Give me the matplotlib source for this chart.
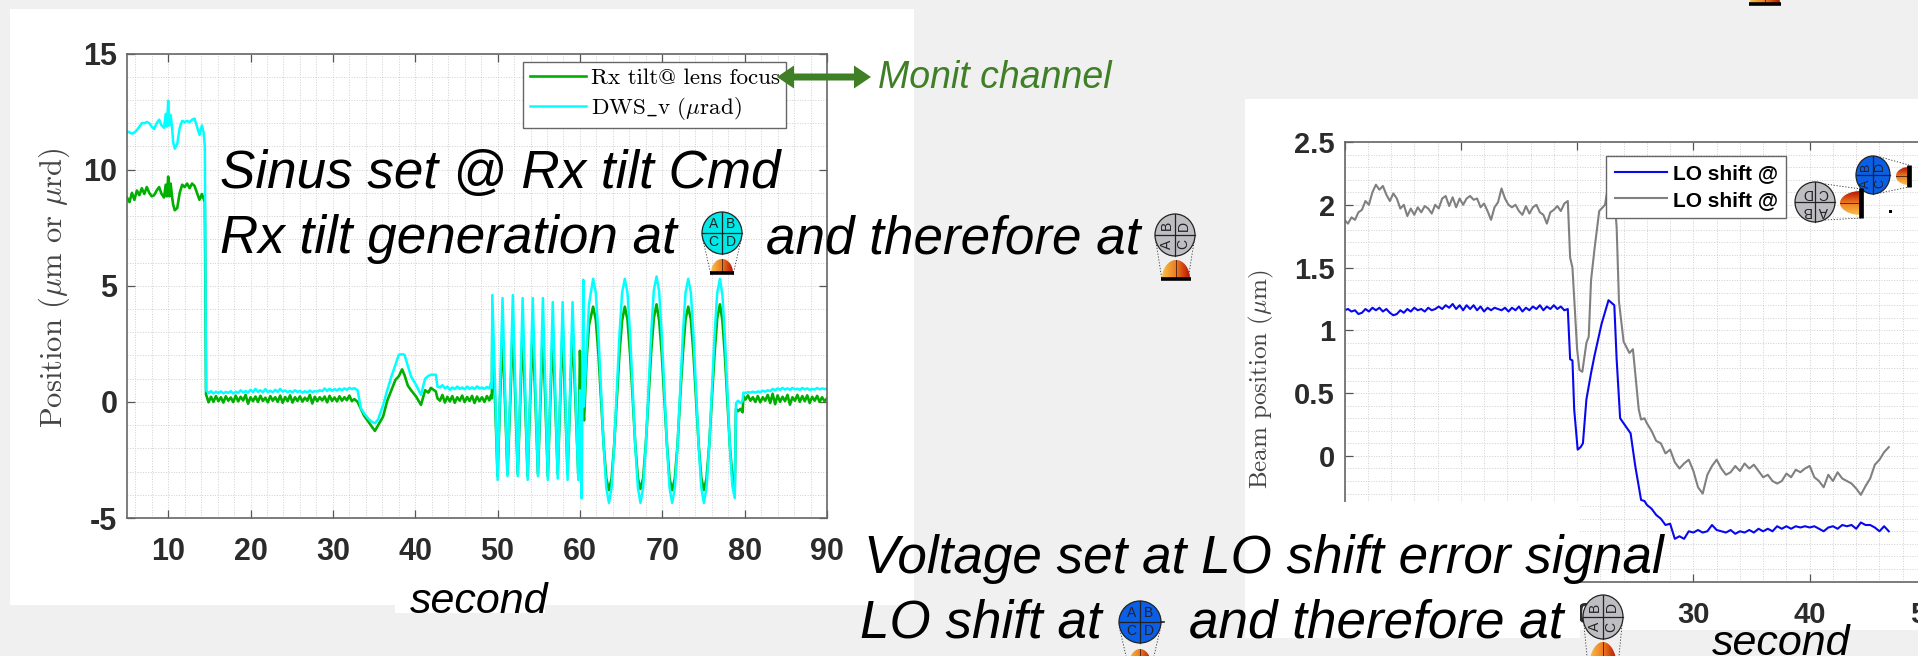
#!/usr/bin/env python3
"""
Rx tilt and LO shift step responses, pasted on a slide with icons
"""

import matplotlib
matplotlib.use('Agg')
import matplotlib.pyplot as plt
import numpy as np
from matplotlib.colors import LinearSegmentedColormap
from matplotlib.patches import Ellipse, FancyArrow, PathPatch, Rectangle
from matplotlib.path import Path
from matplotlib.ticker import MultipleLocator

plt.rcParams['mathtext.fontset'] = 'cm'
plt.rcParams['axes.unicode_minus'] = False

# left chart, time bases shared by both channels
t_start = [5.0, 5.3, 5.6, 5.9, 6.2, 6.5, 6.8, 7.1, 7.4, 7.7, 8.0, 8.3, 8.6, 8.9, 9.2, 9.5, 9.7, 9.85, 10.0, 10.15,
           10.3, 10.45, 10.6, 10.8, 11.1, 11.4, 11.7, 12.0, 12.3, 12.6, 12.9, 13.2, 13.5, 13.8, 14.1, 14.3, 14.45]
cyan_start = [11.65, 11.6, 11.55, 11.6, 11.7, 11.85, 12.0, 12.0, 12.05, 12.0, 11.85, 11.75, 12.0, 12.15, 11.9, 11.8,
              12.4, 11.85, 12.97, 11.9, 12.35, 11.9, 11.2, 10.9, 11.1, 11.8, 12.1, 12.05, 12.1, 12.05, 12.15, 12.2,
              11.85, 11.5, 11.9, 11.6, 11.0]
green_start = [8.8, 8.6, 9.0, 8.7, 9.1, 8.9, 9.2, 8.95, 9.25, 9.0, 8.85, 8.9, 9.1, 9.25, 8.95, 8.8, 9.35, 8.85, 9.7,
               8.85, 9.4, 8.9, 8.5, 8.25, 8.35, 9.0, 9.35, 9.25, 9.4, 9.2, 9.4, 9.3, 9.0, 8.7, 8.95, 8.75, 8.6]

t_flat = [14.6, 14.9, 15.2, 15.5, 15.8, 16.1, 16.4, 16.7, 17.0, 17.3, 17.6, 17.9, 18.2, 18.5, 18.8, 19.1, 19.4, 19.7,
          20.0, 20.3, 20.6, 20.9, 21.2, 21.5, 21.8, 22.1, 22.4, 22.7, 23.0, 23.3, 23.6, 23.9, 24.2, 24.5, 24.8, 25.1,
          25.4, 25.7, 26.0, 26.3, 26.6, 26.9, 27.2, 27.5, 27.8, 28.1, 28.4, 28.7, 29.0, 29.3, 29.6, 29.9, 30.2, 30.5,
          30.8, 31.1, 31.4, 31.7, 32.0, 32.3]
cyan_flat = [0.5, 0.38, 0.46, 0.36, 0.44, 0.38, 0.45, 0.37, 0.43, 0.39, 0.46, 0.36, 0.44, 0.38, 0.5, 0.4, 0.47, 0.4,
             0.52, 0.42, 0.56, 0.43, 0.5, 0.41, 0.55, 0.42, 0.48, 0.41, 0.52, 0.43, 0.56, 0.44, 0.49, 0.42, 0.47, 0.41,
             0.5, 0.43, 0.47, 0.4, 0.46, 0.41, 0.49, 0.42, 0.46, 0.44, 0.5, 0.46, 0.58, 0.47, 0.56, 0.48, 0.55, 0.49,
             0.57, 0.5, 0.58, 0.52, 0.6, 0.55]
green_flat = [0.32, -0.02, 0.22, 0.0, 0.25, 0.03, 0.2, -0.03, 0.24, 0.05, 0.19, -0.01, 0.27, 0.02, 0.22, 0.06, 0.3,
              -0.08, 0.2, 0.03, 0.23, 0.0, 0.26, 0.04, 0.18, -0.02, 0.25, 0.05, 0.2, 0.0, 0.27, -0.04, 0.21, 0.03, 0.28,
              -0.03, 0.2, 0.04, 0.24, 0.01, 0.18, 0.05, 0.3, -0.07, 0.22, 0.03, 0.2, 0.06, 0.23, -0.02, 0.26, 0.04,
              0.19, 0.02, 0.24, 0.05, 0.2, 0.07, 0.27, 0.03]

t_bump = [32.6, 33.0, 33.4, 33.8, 34.3, 34.7, 35.1, 35.5, 36.1, 36.6, 37.1, 37.6, 38.0, 38.4, 38.7, 39.1, 39.5, 40.1,
          40.7, 41.2, 41.6, 41.9, 42.5, 42.7, 43.0]
cyan_bump = [0.59, 0.5, -0.27, -0.5, -0.72, -0.85, -0.92, -0.75, -0.13, 0.5, 1.09, 1.6, 2.03, 2.05, 2.03, 1.55, 1.09,
             0.73, 0.3, 1.0, 1.12, 1.17, 1.17, 0.66, 0.62]
green_bump = [0.12, 0.0, -0.3, -0.6, -0.85, -1.05, -1.25, -1.0, -0.63, 0.05, 0.5, 0.95, 1.1, 1.4, 1.15, 0.7, 0.5,
              0.23, -0.13, 0.5, 0.4, 0.6, 0.45, 0.15, 0.05]

t_hold = [43.3, 43.6, 43.9, 44.2, 44.5, 44.8, 45.1, 45.4, 45.7, 46.0, 46.3, 46.6, 46.9, 47.2, 47.5, 47.8, 48.1, 48.4,
          48.7, 49.0, 49.2]
cyan_hold = [0.72, 0.58, 0.66, 0.52, 0.62, 0.55, 0.66, 0.56, 0.62, 0.54, 0.66, 0.56, 0.63, 0.55, 0.67, 0.58, 0.62,
             0.56, 0.64, 0.58, 0.82]
green_hold = [0.3, -0.03, 0.22, 0.02, 0.25, -0.04, 0.2, 0.05, 0.27, -0.01, 0.21, 0.04, 0.26, -0.05, 0.23, 0.03, 0.2,
              0.0, 0.25, 0.06, 0.28]

# fast sine, peak / mean / valley / mean
t_fast = [49.3, 49.36, 49.7, 50.0, 50.3, 50.6, 50.9, 51.2, 51.55, 51.85, 52.15, 52.45, 52.75, 53.04, 53.35, 53.65,
          53.95, 54.27, 54.6, 54.9, 55.2, 55.5, 55.8, 56.1, 56.4, 56.7, 57.0, 57.3, 57.6, 57.9, 58.2, 58.5, 58.8,
          59.1, 59.45, 59.8, 60.0, 60.2, 60.4, 60.5, 60.8, 61.1]
cyan_fast = [0.6, 4.6, 0.6, -3.36, 0.5, 4.47, 0.5, -3.2, 0.6, 4.6, 0.6, -3.2, 0.5, 4.47, 0.5, -3.36, 0.5, 4.47, 0.5,
             -3.2, 0.5, 4.47, 0.5, -3.36, 0.4, 4.3, 0.4, -3.3, 0.4, 4.3, 0.4, -3.36, 0.4, 4.3, 0.4, -3.36, 0.5, -4.15,
             5.26, -0.2, 2.2, 4.2]
green_fast = [0.15, 3.1, 0.0, -3.2, 0.1, 2.96, 0.0, -3.1, 0.1, 3.3, 0.1, -3.1, 0.0, 3.2, 0.0, -3.2, 0.0, 3.0, 0.0,
              -3.1, 0.0, 3.0, 0.0, -3.2, 0.0, 3.0, 0.0, -3.1, 0.0, 3.3, 0.0, -3.1, 0.0, 3.2, 0.0, -3.1, 2.2, 0.2,
              -0.5, -0.8, 1.8, 3.3]

# slow sine
t_slow = [61.6, 61.92, 62.24, 62.56, 62.88, 63.2, 63.52,
          63.84, 64.16, 64.48, 64.8, 65.12, 65.45,
          65.77, 66.09, 66.4, 66.72, 67.04, 67.35,
          67.67, 68.0, 68.32, 68.65, 68.97, 69.3,
          69.62, 69.93, 70.25, 70.57, 70.88, 71.2,
          71.52, 71.85, 72.17, 72.5, 72.82, 73.15,
          73.47, 73.78, 74.1, 74.42, 74.73, 75.05,
          75.37, 75.7, 76.02, 76.35, 76.67, 77.0,
          77.3, 77.6, 77.9, 78.2, 78.5, 78.8]
cyan_slow = [5.3, 4.7, 2.9, 0.5, -1.9, -3.7, -4.35,
             -3.7, -1.9, 0.5, 2.9, 4.7, 5.3,
             4.7, 2.9, 0.5, -1.9, -3.7, -4.35,
             -3.7, -1.9, 0.5, 2.95, 4.8, 5.4,
             4.75, 2.9, 0.5, -1.9, -3.7, -4.35,
             -3.7, -1.9, 0.5, 2.9, 4.7, 5.3,
             4.7, 2.9, 0.5, -1.9, -3.7, -4.35,
             -3.7, -1.9, 0.5, 2.9, 4.7, 5.3,
             4.6, 2.8, 0.4, -1.9, -3.6, -4.15]
green_slow = [4.1, 3.55, 2.1, 0.15, -1.85, -3.3, -3.8,
              -3.3, -1.85, 0.15, 2.1, 3.5, 4.1,
              3.55, 2.05, 0.2, -1.85, -3.3, -3.75,
              -3.3, -1.8, 0.15, 2.15, 3.6, 4.2,
              3.5, 2.1, 0.15, -1.85, -3.3, -3.8,
              -3.3, -1.85, 0.2, 2.1, 3.55, 4.1,
              3.55, 2.1, 0.15, -1.85, -3.25, -3.8,
              -3.3, -1.85, 0.15, 2.1, 3.6, 4.2,
              3.5, 2.0, 0.1, -1.85, -3.2, -3.7]

t_end = [78.95, 79.2, 79.5, 79.75, 79.85, 80.1, 80.4, 80.7, 81.0, 81.3, 81.6, 81.9, 82.2, 82.5, 82.8, 83.1, 83.4,
         83.7, 84.0, 84.3, 84.6, 84.9, 85.2, 85.5, 85.8, 86.1, 86.4, 86.7, 87.0, 87.3, 87.6, 87.9, 88.2, 88.5, 88.8,
         89.1, 89.4, 89.7, 90.0]
cyan_end = [-0.05, 0.05, -0.05, 0.05, 0.4, 0.38, 0.42, 0.4, 0.44, 0.4, 0.45, 0.42, 0.48, 0.44, 0.5, 0.46, 0.56, 0.5,
            0.58, 0.52, 0.6, 0.53, 0.58, 0.52, 0.6, 0.54, 0.57, 0.52, 0.6, 0.54, 0.58, 0.52, 0.56, 0.53, 0.6, 0.54,
            0.58, 0.55, 0.57]
green_end = [-0.3, -0.4, -0.3, -0.45, 0.25, 0.1, 0.28, 0.05, 0.2, 0.0, 0.25, -0.02, 0.2, 0.05, 0.3, -0.05, 0.35, -0.1,
             0.28, 0.0, 0.22, 0.03, 0.3, -0.12, 0.2, 0.05, 0.3, 0.0, 0.25, 0.03, 0.28, -0.05, 0.22, 0.05, 0.26, 0.0,
             0.2, 0.03, 0.15]

tilt_xticks = [10, 20, 30, 40, 50, 60, 70, 80, 90]
tilt_yticks = [-5, 0, 5, 10, 15]

# right chart
t_lo_hold = [0.0, 0.3, 0.6, 0.9, 1.2, 1.5, 1.8, 2.1, 2.4, 2.7, 3.0, 3.3, 3.6, 3.9, 4.2, 4.5, 4.8, 5.1, 5.4, 5.7, 6.0,
             6.3, 6.6, 6.9, 7.2, 7.5, 7.8, 8.1, 8.4, 8.7, 9.0, 9.3, 9.6, 9.9, 10.2, 10.5, 10.8, 11.1, 11.4, 11.7, 12.0,
             12.3, 12.6, 12.9, 13.2, 13.5, 13.8, 14.1, 14.4, 14.7, 15.0, 15.3, 15.6, 15.9, 16.2, 16.5, 16.8, 17.1,
             17.4, 17.7, 18.0, 18.3, 18.6, 18.9, 19.2]
gray_hold = [1.88, 1.85, 1.9, 1.88, 1.94, 1.96, 2.03, 2.0, 2.1, 2.16, 2.12, 2.15, 2.08, 2.03, 2.09, 2.05, 1.97, 2.0,
             1.91, 1.97, 1.92, 1.98, 1.94, 1.99, 1.97, 1.93, 2.0, 1.97, 2.05, 2.07, 1.99, 2.06, 1.98, 2.05, 2.0, 2.05,
             2.07, 2.04, 2.05, 1.98, 2.01, 1.95, 1.88, 1.98, 2.02, 2.13, 2.05, 2.0, 1.98, 2.0, 1.95, 1.92, 1.99, 1.93,
             1.98, 2.0, 1.94, 1.92, 1.85, 1.94, 1.96, 1.99, 1.95, 2.01, 2.03]
blue_hold = [1.16, 1.17, 1.15, 1.16, 1.13, 1.14, 1.17, 1.15, 1.18, 1.16, 1.18, 1.15, 1.17, 1.14, 1.12, 1.13, 1.16,
             1.14, 1.17, 1.15, 1.18, 1.16, 1.17, 1.15, 1.18, 1.16, 1.17, 1.19, 1.17, 1.2, 1.18, 1.21, 1.17, 1.2, 1.16,
             1.2, 1.17, 1.2, 1.16, 1.19, 1.15, 1.18, 1.16, 1.18, 1.17, 1.16, 1.18, 1.15, 1.18, 1.16, 1.19, 1.15, 1.18,
             1.16, 1.19, 1.17, 1.2, 1.16, 1.19, 1.17, 1.2, 1.17, 1.19, 1.16, 1.17]

t_gray_drop = [19.4, 19.6, 20.0, 20.2, 20.45, 20.8, 21.0, 21.2, 21.5, 21.9, 22.4, 22.7, 23.1, 23.4, 23.6, 24.0, 24.5,
               24.8, 25.3, 25.5, 25.8]
gray_drop = [1.58, 1.5, 0.85, 0.685, 0.67, 0.9, 0.95, 1.4, 1.65, 1.95, 2.0, 2.17, 2.2, 1.82, 1.23, 0.91, 0.82, 0.85,
             0.37, 0.29, 0.3]
t_blue_drop = [19.4, 19.6, 19.75, 20.05, 20.3, 20.5, 20.8, 21.2, 21.5, 22.1, 22.7, 23.2, 23.4, 23.7, 24.6, 25.0, 25.5,
               25.8]
blue_drop = [0.77, 0.76, 0.37, 0.05, 0.07, 0.1, 0.45, 0.66, 0.8, 1.05, 1.24, 1.2, 0.77, 0.3, 0.18, -0.08, -0.35,
             -0.36]

t_lo_tail = [26.0, 26.4, 26.8, 27.2, 27.6, 28.0, 28.4, 28.8, 29.2, 29.6, 30.0, 30.4, 30.8, 31.2, 31.6, 32.0, 32.4,
             32.8, 33.2, 33.6, 34.0, 34.4, 34.8, 35.2, 35.6, 36.0, 36.4, 36.8, 37.2, 37.6, 38.0, 38.4, 38.8, 39.2,
             39.6, 40.0, 40.4, 40.8, 41.2, 41.6, 42.0, 42.4, 42.8, 43.2, 43.6, 44.0, 44.4, 44.8, 45.2, 45.6, 46.0,
             46.4, 46.8]
gray_tail = [0.26, 0.2, 0.12, 0.1, 0.02, 0.05, -0.05, -0.1, -0.06, -0.03, -0.12, -0.25, -0.3, -0.15, -0.08, -0.03,
             -0.1, -0.15, -0.13, -0.08, -0.12, -0.06, -0.1, -0.07, -0.12, -0.17, -0.15, -0.2, -0.22, -0.2, -0.14,
             -0.17, -0.11, -0.13, -0.1, -0.08, -0.17, -0.2, -0.25, -0.15, -0.2, -0.13, -0.18, -0.2, -0.22, -0.26,
             -0.31, -0.24, -0.18, -0.07, -0.03, 0.03, 0.07]
blue_tail = [-0.39, -0.42, -0.47, -0.5, -0.55, -0.54, -0.66, -0.64, -0.66, -0.6, -0.61, -0.59, -0.61, -0.6, -0.55,
             -0.59, -0.6, -0.61, -0.59, -0.62, -0.6, -0.61, -0.59, -0.61, -0.58, -0.6, -0.58, -0.6, -0.56, -0.58,
             -0.56, -0.58, -0.56, -0.57, -0.56, -0.57, -0.56, -0.58, -0.6, -0.57, -0.56, -0.58, -0.55, -0.56, -0.55,
             -0.58, -0.53, -0.55, -0.55, -0.57, -0.6, -0.56, -0.6]

lo_xticks = [0, 10, 20, 30, 40, 50]
lo_yticks = [-1, -0.5, 0, 0.5, 1, 1.5, 2, 2.5]
lo_yticklabels = ['-1', '-0.5', '0', '0.5', '1', '1.5', '2', '2.5']

W, H = 1918, 656
BG = '#f0f0f0'
SANS = 'Liberation Sans'
SERIF = 'cmr10'
MONIT = '#3f7f25'


def px_axes(fig, left, top, right, bottom, zorder):
    return fig.add_axes([left / W, 1 - bottom / H, (right - left) / W, (bottom - top) / H], zorder=zorder)


def style_chart(ax, xticks, yticks, xminor, yminor, tick_size):
    ax.set_xticks(xticks)
    ax.set_yticks(yticks)
    ax.xaxis.set_minor_locator(MultipleLocator(xminor))
    ax.yaxis.set_minor_locator(MultipleLocator(yminor))
    ax.grid(which='both', ls=':', color='#cfcfcf', lw=0.7)
    ax.set_axisbelow(True)
    ax.tick_params(which='major', direction='in', top=True, right=True, length=5.5, width=0.9, color='#555555')
    ax.tick_params(which='minor', length=0)
    ax.tick_params(axis='x', pad=14)
    ax.tick_params(axis='y', pad=7)
    for lab in ax.get_xticklabels() + ax.get_yticklabels():
        lab.set_fontfamily(SANS)
        lab.set_fontweight('bold')
        lab.set_fontsize(tick_size)
        lab.set_color('#2b2b2b')
    for sp in ax.spines.values():
        sp.set_color('#666666')
        sp.set_linewidth(1.2)


def draw_dome(ax, cx, cy, a, b, orient='up', base=None):
    # half ellipse standing on (cx, cy), filled with an orange to red gradient
    th = np.linspace(0, np.pi, 40)
    if orient == 'up':
        xs, ys = cx + a * np.cos(th), cy - b * np.sin(th)
        ramp = np.linspace(0, 1, 64).reshape(1, -1)
        extent = (cx - a, cx + a, cy, cy - b)
        ax.plot([cx, cx], [cy, cy - b], color='#5a2a10', lw=0.7, zorder=6)
        if base:
            ax.plot([cx - base, cx + base], [cy, cy], color='black', lw=2.6, solid_capstyle='butt', zorder=7)
    else:
        xs, ys = cx - b * np.sin(th), cy + a * np.cos(th)
        ramp = np.linspace(1, 0, 64).reshape(-1, 1)
        extent = (cx - b, cx, cy + a, cy - a)
        ax.plot([cx - b, cx], [cy, cy], color='#5a2a10', lw=0.7, zorder=6)
        if base:
            ax.plot([cx, cx], [cy - base, cy + base], color='black', lw=3.4, solid_capstyle='butt', zorder=7)
    cmap = LinearSegmentedColormap.from_list('dome', ['#f8c048', '#ec7c20', '#b81404'])
    im = ax.imshow(ramp, cmap=cmap, extent=extent, aspect='auto', zorder=5)
    clip = PathPatch(Path(np.column_stack([xs, ys])), transform=ax.transData, fc='none', ec='none')
    ax.add_patch(clip)
    im.set_clip_path(clip)


def draw_quad(ax, cx, cy, rx, ry, color, letters, rot, size=10):
    # four quadrant detector, letters given as top left, top right, bottom left, bottom right
    ax.add_patch(Ellipse((cx, cy), 2 * rx, 2 * ry, fc=color, ec='#222222', lw=0.9, zorder=5))
    ax.plot([cx - rx, cx + rx], [cy, cy], color='#222222', lw=0.9, zorder=6)
    ax.plot([cx, cx], [cy - ry, cy + ry], color='#222222', lw=0.9, zorder=6)
    spots = [(-1, -1), (1, -1), (-1, 1), (1, 1)]
    for lab, (sx, sy) in zip(letters, spots):
        ax.text(cx + sx * rx * 0.42, cy + sy * ry * 0.44, lab, family=SANS, fontsize=size, rotation=rot,
                ha='center', va='center', color='#222222', zorder=7)


def dotted(ax, x0, y0, x1, y1):
    ax.plot([x0, x1], [y0, y1], color='#333333', lw=0.6, ls=(0, (1.5, 2)), zorder=4)


fig = plt.figure(figsize=(W / 100, H / 100), dpi=100, facecolor=BG)

# slide panels behind the charts
back = fig.add_axes([0, 0, 1, 1], zorder=0)
back.set_xlim(0, W)
back.set_ylim(H, 0)
back.axis('off')
back.add_patch(Rectangle((10, 9), 904, 596, fc='white', ec='none'))
back.add_patch(Rectangle((395, 600), 150, 13, fc='white', ec='none'))
back.add_patch(Rectangle((1245, 99), 673, 531, fc='white', ec='none'))

# Rx tilt chart
ax = px_axes(fig, 127, 53.5, 827, 518, 1)
t_all = t_start + t_flat + t_bump + t_hold + t_fast + t_slow + t_end
ax.plot(t_all, green_start + green_flat + green_bump + green_hold + green_fast + green_slow + green_end,
        color='#00b000', lw=1.9, label='Rx tilt@ lens focus')
ax.plot(t_all, cyan_start + cyan_flat + cyan_bump + cyan_hold + cyan_fast + cyan_slow + cyan_end,
        color='#00ffff', lw=1.8, label=r'DWS$\_$v ($\mu$rad)')
ax.set_xlim(5, 90)
ax.set_ylim(-5, 15)
style_chart(ax, tilt_xticks, tilt_yticks, 2, 1, 22)
ax.set_ylabel(r'Position ($\mu$m or $\mu$rd)', family=SERIF, fontsize=22, color='#444444')
ax.yaxis.set_label_coords(-0.0786, 0.496)
leg = ax.legend(loc='upper left', bbox_to_anchor=(0.566, 0.982), borderaxespad=0, prop={'family': SERIF, 'size': 16.6},
                fancybox=False, framealpha=1, edgecolor='#666666', handlelength=2.45, handletextpad=0.2,
                labelspacing=0.28, borderpad=0.28)
leg.get_frame().set_linewidth(1.0)

# LO shift chart, runs past the edge of the slide
ax2 = px_axes(fig, 1344.5, 142, 1926, 581.5, 1)
ax2.plot(t_lo_hold + t_gray_drop + t_lo_tail, gray_hold + gray_drop + gray_tail, color='#808080', lw=1.5,
         label='LO shift @')
ax2.plot(t_lo_hold + t_blue_drop + t_lo_tail, blue_hold + blue_drop + blue_tail, color='#0808f0', lw=1.5,
         label='LO shift @')
ax2.set_xlim(0, 50)
ax2.set_ylim(-1, 2.5)
ax2.set_yticks(lo_yticks)
ax2.set_yticklabels(lo_yticklabels)
style_chart(ax2, lo_xticks, lo_yticks, 2, 0.1, 21)
ax2.set_yticklabels(lo_yticklabels)
ax2.set_ylabel(r'Beam position ($\mu$m)', family=SERIF, fontsize=18, color='#444444')
ax2.yaxis.set_label_coords(-0.118, 0.46)
handles, labels = ax2.get_legend_handles_labels()
leg2 = ax2.legend(handles[::-1], labels[::-1], loc='upper left', bbox_to_anchor=(0.450, 0.968), borderaxespad=0,
                  prop={'family': SANS, 'weight': 'bold', 'size': 15}, fancybox=False, framealpha=1,
                  edgecolor='#666666', handlelength=2.5, handletextpad=0.3, labelspacing=0.35, borderpad=0.4)
leg2.get_frame().set_linewidth(1.0)

# everything pasted on top of the charts
top = fig.add_axes([0, 0, 1, 1], zorder=3)
top.patch.set_alpha(0)
top.axis('off')
top.add_patch(Rectangle((1245, 502), 335, 136, fc='white', ec='none', zorder=1))

big = {'family': SANS, 'style': 'italic', 'fontsize': 38.2, 'color': 'black', 'va': 'baseline', 'ha': 'left',
       'zorder': 3}
top.text(220, 188, 'Sinus set @ Rx tilt Cmd', **big)
top.text(220, 253, 'Rx tilt generation at', **big)
top.text(766, 253, 'and therefore at', **big)
top.text(864, 573, 'Voltage set at LO shift error signal', **big)
top.text(860, 637, 'LO shift at', **big)
top.text(1189, 637, 'and therefore at', **big)
small = dict(big, fontsize=31)
top.text(410, 613, 'second', **small)
top.text(1712, 655, 'second', **small)
top.text(878, 88, 'Monit channel', **dict(big, fontsize=27, color=MONIT))

top.add_patch(FancyArrow(824, 77, -47, 0, width=7, head_width=23, head_length=17, length_includes_head=True,
                         fc=MONIT, ec='none', zorder=4))
top.add_patch(FancyArrow(824, 77, 47, 0, width=7, head_width=23, head_length=17, length_includes_head=True,
                         fc=MONIT, ec='none', zorder=4))

upright = ['A', 'B', 'C', 'D']
sideways = ['B', 'D', 'A', 'C']
flipped = ['D', 'C', 'B', 'A']

draw_quad(top, 722, 233, 20, 21, '#00e8e8', upright, 0)
dotted(top, 703, 240, 711, 275)
dotted(top, 741, 240, 733, 275)
draw_dome(top, 722, 273, 11, 14, base=12)

draw_quad(top, 1175, 235, 20, 21, '#bdbdc2', sideways, 90)
dotted(top, 1156, 242, 1162, 280)
dotted(top, 1194, 242, 1188, 280)
draw_dome(top, 1176, 279, 14, 19, base=15)

draw_quad(top, 1140, 622, 21, 21, '#0a5fe6', upright, 0)
top.plot([1161, 1164], [622, 622], color='#222222', lw=1.2, zorder=6)
dotted(top, 1120, 630, 1126, 656)
dotted(top, 1160, 630, 1154, 656)
draw_dome(top, 1140, 668, 12, 19)

draw_quad(top, 1603, 617, 20, 22, '#bdbdc2', sideways, 90)
dotted(top, 1584, 625, 1587, 656)
dotted(top, 1622, 625, 1619, 656)
draw_dome(top, 1603, 668, 14, 26)

draw_quad(top, 1873, 175, 17, 19, '#0a5fe6', sideways, 90, size=9)
dotted(top, 1880, 157, 1909, 165)
dotted(top, 1880, 193, 1909, 187)
draw_dome(top, 1909, 176, 9, 13, orient='left', base=11)

draw_quad(top, 1815, 202, 20, 20, '#bdbdc2', flipped, 180)
dotted(top, 1825, 184, 1861, 189)
dotted(top, 1825, 220, 1861, 218)
draw_dome(top, 1861, 203, 12, 21, orient='left', base=15)
top.add_patch(Rectangle((1889, 210), 2.5, 3, fc='black', ec='none', zorder=6))

# dome cut by the top of the slide, belongs to an icon off the page
draw_dome(top, 1765, 4, 15, 20, base=16)

top.set_xlim(0, W)
top.set_ylim(H, 0)

fig.savefig('out.png', dpi=100, facecolor=BG)
plt.close('all')
